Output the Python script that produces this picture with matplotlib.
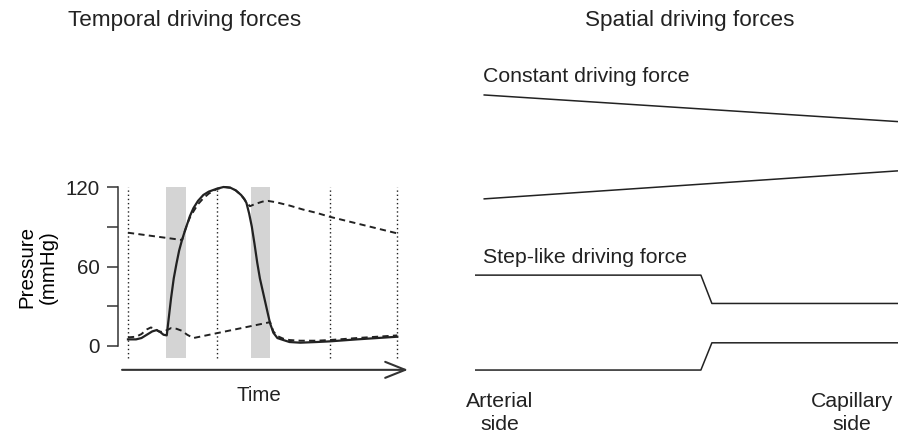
import numpy as np
import matplotlib.pyplot as plt

plt.rcParams['font.family'] = ['Liberation Sans', 'DejaVu Sans']
plt.rcParams['text.color'] = '#222222'

INK = '#222222'

# --- temporal panel: pressure traces over one cardiac cycle (arbitrary time units) ---
t_lv = [0, 3, 5, 7, 9, 10.6, 12, 13.2, 14.4, 15.2, 16, 17, 18, 19, 20, 21, 22, 23,
        24.3, 26, 28, 30, 33, 35.5, 38, 40, 42, 43.2, 44, 45, 46, 47, 48, 49, 50,
        51, 52, 52.8, 54, 55.5, 57.7, 60, 64, 70, 75, 85, 100]
p_lv = [5, 5, 6, 8.5, 11, 12, 10.5, 8.5, 8, 22, 36, 51, 62, 72, 79.5, 86, 92, 98,
        104, 109.5, 114, 116.5, 118.7, 120, 119.5, 117.5, 114, 111, 108, 100, 90, 77,
        63, 51, 42, 33, 24, 17, 10, 6, 4.5, 3, 2.5, 3, 3.5, 5, 7]

t_aorta = [0, 20.1, 21, 22, 23, 24.3, 26, 28, 30, 33, 36, 38, 40, 42, 44, 45.3,
           47, 50, 52, 55, 60, 65, 70, 75, 80, 90, 100]
p_aorta = [85.5, 80, 86, 92, 97, 101.5, 107, 111.5, 115, 118.5, 120, 119.5, 117.5,
           114, 108.5, 105.5, 107, 109, 109.5, 108.5, 106, 103, 100.5, 97.5, 95, 90, 85]

t_atrium = [0, 3, 5, 7, 8.5, 10, 11.5, 13, 14.5, 16, 18, 20, 22, 24.3, 52.8, 54,
            55.5, 57.7, 60, 64, 70, 75, 85, 100]
p_atrium = [6.5, 7, 9, 12.5, 14, 13, 11, 10.5, 12, 13.5, 13, 11.5, 8.5, 6, 18, 11,
            7.5, 5.5, 4.5, 4, 4, 4.5, 6, 8]

phase_marks = [0, 33, 75, 100]
valve_bands = [(14.1, 21.6), (45.7, 52.8)]
p_ticks = [0, 60, 120]
p_minor = [30, 90]

# --- spatial panel: pressure profiles from arterial (0) to capillary (1) side ---
x_const = [0.02, 1.0]
p_const_hi = [100, 90.3]
p_const_lo = [62.2, 72.4]

x_step = [0.0, 0.534, 0.56, 1.0]
p_step_hi = [34.5, 34.5, 24.2, 24.2]
p_step_lo = [0.0, 0.0, 9.9, 9.9]

fig = plt.figure(figsize=(8.98, 4.38), dpi=100)

# left axes
ax = fig.add_axes([118 / 898, 0.1556, 290 / 898, 0.4235])
ax.set_xlim(-3.7, 104)
ax.set_ylim(-18, 122)

for t0, t1 in valve_bands:
    ax.fill_betweenx([-9, 120], t0, t1, color='#d4d4d4', lw=0, zorder=1)
ax.vlines(phase_marks, -9, 120, colors=INK, linestyles=(0, (1, 2)), lw=1.0, zorder=2)

ax.plot(t_lv, p_lv, color=INK, lw=1.6, zorder=4)
ax.plot(t_aorta, p_aorta, color=INK, lw=1.4, dashes=(3.2, 2.2), zorder=3)
ax.plot(t_atrium, p_atrium, color=INK, lw=1.4, dashes=(3.2, 2.2), zorder=3)

for side in ['top', 'right', 'bottom']:
    ax.spines[side].set_visible(False)
ax.spines['left'].set_bounds(0, 120)
ax.spines['left'].set_linewidth(1.1)
ax.spines['left'].set_color('#333333')
ax.set_yticks(p_ticks)
ax.set_yticks(p_minor, minor=True)
ax.tick_params(axis='y', which='both', length=8, width=1.1, color='#333333',
               labelsize=14.8, labelcolor=INK, pad=5)
ax.set_xticks([])

ax.set_ylabel('Pressure\n(mmHg)', fontsize=14.8, linespacing=1.15)
ax.yaxis.set_label_coords(-0.207, 0.554)

ax.annotate('', xy=(104, -18), xytext=(-2.2, -18), annotation_clip=False,
            arrowprops=dict(arrowstyle='->,head_length=1.0,head_width=0.4',
                            lw=1.5, color='#333333', mutation_scale=14.4,
                            shrinkA=0, shrinkB=0))
ax.text(48.7, -37.7, 'Time', ha='center', va='center', fontsize=14.8, clip_on=False)

fig.text(68 / 898, 1 - 26 / 438, 'Temporal driving forces', fontsize=16.2,
         ha='left', va='baseline')
fig.text(585 / 898, 1 - 26 / 438, 'Spatial driving forces', fontsize=16.2,
         ha='left', va='baseline')

# right axes
ax2 = fig.add_axes([475 / 898, 0, 423 / 898, 1])
ax2.set_xlim(0, 1)
ax2.set_ylim(-24.7, 134.5)
ax2.axis('off')

for p in (p_const_hi, p_const_lo):
    ax2.plot(x_const, p, color=INK, lw=1.1, solid_capstyle='butt')
for p in (p_step_hi, p_step_lo):
    ax2.plot(x_step, p, color=INK, lw=1.1, solid_capstyle='butt')

ax2.text(0.02, 104.7, 'Constant driving force', fontsize=15.3, va='baseline')
ax2.text(0.02, 38.9, 'Step-like driving force', fontsize=15.3, va='baseline')
ax2.text(0.059, -15.6, 'Arterial\nside', fontsize=15.3, ha='center', va='center',
         linespacing=1.3)
ax2.text(0.891, -15.6, 'Capillary\nside', fontsize=15.3, ha='center', va='center',
         linespacing=1.3)

fig.savefig('out.png', dpi=100, facecolor='white')
